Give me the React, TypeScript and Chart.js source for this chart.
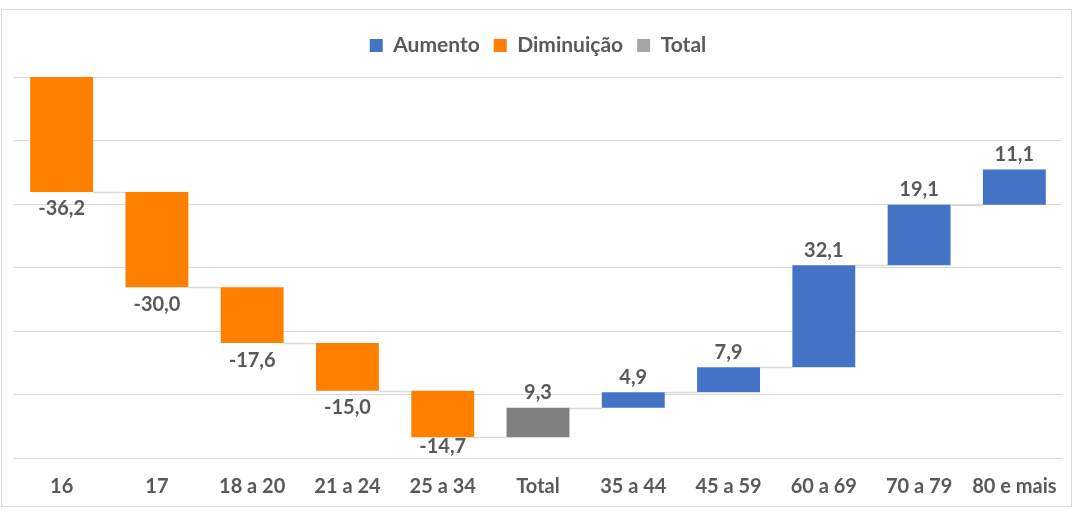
import React, { useEffect, useRef } from "react";
import { Chart, registerables } from "chart.js";

Chart.register(...registerables);

const categories = ["16", "17", "18 a 20", "21 a 24", "25 a 34", "Total", "35 a 44", "45 a 59", "60 a 69", "70 a 79", "80 e mais"];
const changes = [-36.2, -30.0, -17.6, -15.0, -14.7, 9.3, 4.9, 7.9, 32.1, 19.1, 11.1];
const kinds = ["down", "down", "down", "down", "down", "total", "up", "up", "up", "up", "up"];
const startValue = 120;
const yTicks = [0, 20, 40, 60, 80, 100, 120];

const BLUE = "#4472C4";
const ORANGE = "#FF7F00";
const GRAY = "#808080";
const TEXT = "#595959";
const GRID = "#D9D9D9";
const FONT = "Lato, 'Open Sans', sans-serif";

function fmt(v: number) {
  return v.toFixed(1).replace(".", ",");
}

export default function App() {
  const ref = useRef<HTMLCanvasElement>(null);
  useEffect(() => {
    if (!ref.current) return;
    const ranges: [number, number][] = [];
    let running = startValue;
    changes.forEach((c) => {
      ranges.push([running, running + c]);
      running += c;
    });
    const pick = (k: string) => ranges.map((r, i) => (kinds[i] === k ? r : null));
    const dsKinds = ["up", "down", "total"];

    const legendGapPlugin = {
      id: "legendGap",
      beforeInit(chart: any) {
        const lg = chart.legend;
        if (!lg) return;
        const orig = lg.fit;
        lg.fit = function () {
          orig.call(this);
          this.height += 11;
        };
      },
    };

    const connectorPlugin = {
      id: "connectors",
      beforeDatasetsDraw(chart: any) {
        const ctx = chart.ctx;
        const y = chart.scales.y;
        const els: any[] = [];
        chart.data.datasets.forEach((_: any, di: number) => {
          const meta = chart.getDatasetMeta(di);
          meta.data.forEach((el: any, i: number) => {
            if (kinds[i] === dsKinds[di]) els[i] = el;
          });
        });
        ctx.save();
        ctx.strokeStyle = GRID;
        ctx.lineWidth = 1.5;
        for (let i = 0; i < ranges.length - 1; i++) {
          const a = els[i];
          const b = els[i + 1];
          if (!a || !b) continue;
          const yy = Math.round(y.getPixelForValue(ranges[i][1])) + 0.5;
          ctx.beginPath();
          ctx.moveTo(a.x + a.width / 2, yy);
          ctx.lineTo(b.x - b.width / 2, yy);
          ctx.stroke();
        }
        ctx.restore();
      },
    };

    const labelPlugin = {
      id: "valueLabels",
      afterDatasetsDraw(chart: any) {
        const ctx = chart.ctx;
        const y = chart.scales.y;
        const bottomLimit = chart.chartArea.bottom - 11;
        ctx.save();
        ctx.fillStyle = TEXT;
        ctx.font = `bold 20px ${FONT}`;
        ctx.textAlign = "center";
        ctx.textBaseline = "middle";
        chart.data.datasets.forEach((_: any, di: number) => {
          const meta = chart.getDatasetMeta(di);
          meta.data.forEach((el: any, i: number) => {
            if (kinds[i] !== dsKinds[di]) return;
            const r = ranges[i];
            if (kinds[i] === "down") {
              const ty = Math.min(y.getPixelForValue(Math.min(r[0], r[1])) + 17, bottomLimit);
              ctx.fillText(fmt(changes[i]), el.x, ty);
            } else {
              ctx.fillText(fmt(changes[i]), el.x, y.getPixelForValue(Math.max(r[0], r[1])) - 15);
            }
          });
        });
        ctx.restore();
      },
    };

    const chart = new Chart(ref.current, {
      type: "bar",
      data: {
        labels: categories,
        datasets: [
          { label: "Aumento", data: pick("up") as any, backgroundColor: BLUE, grouped: false } as any,
          { label: "Diminuição", data: pick("down") as any, backgroundColor: ORANGE, grouped: false } as any,
          { label: "Total", data: pick("total") as any, backgroundColor: GRAY, grouped: false } as any,
        ],
      },
      options: {
        animation: false,
        responsive: true,
        maintainAspectRatio: false,
        datasets: { bar: { categoryPercentage: 1, barPercentage: 0.66 } },
        layout: { padding: { left: 14, right: 18, top: 21, bottom: 1 } },
        plugins: {
          tooltip: { enabled: false },
          legend: {
            position: "top",
            align: "center",
            labels: {
              color: TEXT,
              font: { family: FONT, size: 21, weight: "bold" },
              boxWidth: 13,
              boxHeight: 13,
              padding: 14,
              generateLabels: (c: any) =>
                c.data.datasets.map((d: any, i: number) => ({
                  text: d.label,
                  fillStyle: i === 2 ? "#A5A5A5" : d.backgroundColor,
                  strokeStyle: "transparent",
                  lineWidth: 0,
                  fontColor: TEXT,
                  datasetIndex: i,
                  hidden: false,
                })),
            },
          },
        },
        scales: {
          x: {
            grid: { display: false, drawTicks: false },
            border: { display: false },
            ticks: { color: TEXT, font: { family: FONT, size: 20, weight: "bold" }, padding: 17, maxRotation: 0, autoSkip: false },
          },
          y: {
            min: yTicks[0],
            max: yTicks[yTicks.length - 1],
            afterBuildTicks: (s: any) => {
              s.ticks = yTicks.map((v) => ({ value: v }));
            },
            grid: { color: GRID, lineWidth: 1, drawTicks: false },
            border: { display: false },
            ticks: { display: false },
          },
        },
      },
      plugins: [legendGapPlugin, connectorPlugin, labelPlugin],
    });
    return () => chart.destroy();
  }, []);

  return (
    <div style={{ position: "fixed", left: 0, top: 0, width: 1080, height: 517, background: "#fff" }}>
      <div
        style={{
          position: "absolute",
          left: 1,
          top: 9,
          width: 1069,
          height: 496,
          border: `1px solid ${GRID}`,
          pointerEvents: "none",
        }}
      />
      <div style={{ position: "absolute", left: 0, top: 0, width: 1080, height: 517 }}>
        <canvas ref={ref} />
      </div>
    </div>
  );
}
